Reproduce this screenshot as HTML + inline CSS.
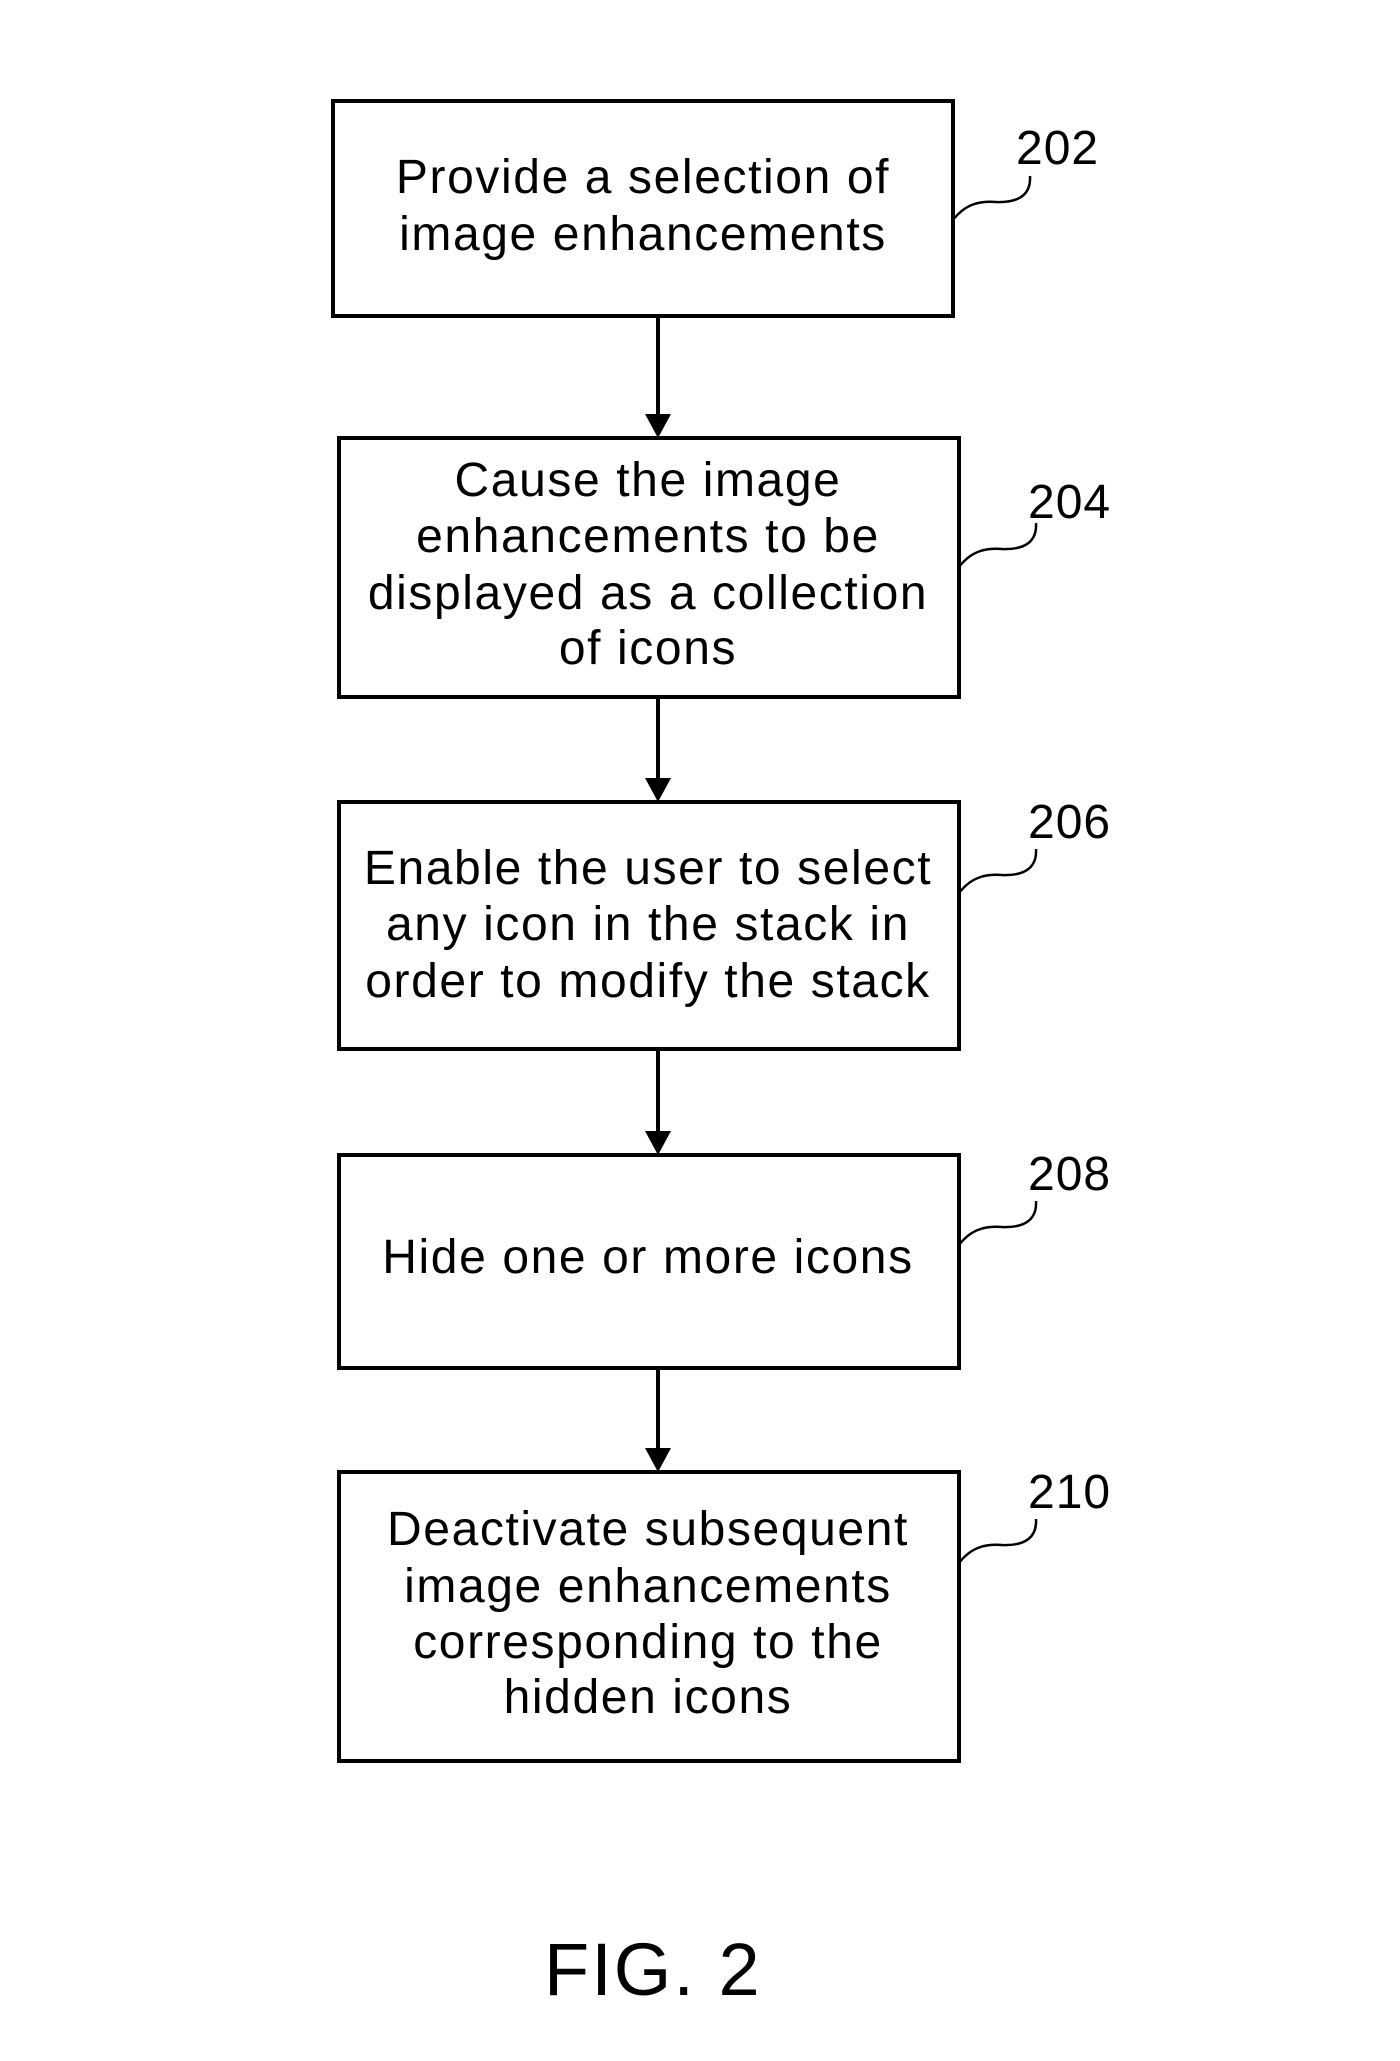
<!DOCTYPE html>
<html><head><meta charset="utf-8"><style>
html,body{margin:0;padding:0;background:#fff;}
svg{display:block}
text{font-family:"Liberation Sans",Arial,sans-serif;fill:#000}
</style></head><body>
<svg width="1400" height="2061" viewBox="0 0 1400 2061" xmlns="http://www.w3.org/2000/svg">
<g fill="none" stroke="#000" stroke-width="4">
<rect x="333" y="101" width="620" height="215"/>
<rect x="339" y="438" width="620" height="259"/>
<rect x="339" y="802" width="620" height="247"/>
<rect x="339" y="1155" width="620" height="213"/>
<rect x="339" y="1472" width="620" height="289"/>
<line x1="658" y1="316" x2="658" y2="416"/>
<line x1="658" y1="697" x2="658" y2="780"/>
<line x1="658" y1="1049" x2="658" y2="1133"/>
<line x1="658" y1="1368" x2="658" y2="1450"/>
</g>
<g fill="#000">
<polygon points="645,414 671,414 658,438"/>
<polygon points="645,778 671,778 658,802"/>
<polygon points="645,1131 671,1131 658,1155"/>
<polygon points="645,1448 671,1448 658,1472"/>
</g>
<g fill="none" stroke="#000" stroke-width="2.5">
<path d="M953,220 C966,203 981,201 996,202 C1021,203 1031,193 1030,176"/>
<path d="M959,567 C972,550 987,548 1002,549 C1027,550 1037,540 1036,523"/>
<path d="M959,893 C972,876 987,874 1002,875 C1027,876 1037,866 1036,849"/>
<path d="M959,1245 C972,1228 987,1226 1002,1227 C1027,1228 1037,1218 1036,1201"/>
<path d="M959,1563 C972,1546 987,1544 1002,1545 C1027,1546 1037,1536 1036,1519"/>
</g>
<g font-size="48" text-anchor="middle" letter-spacing="1.6">
<text x="643" y="193">Provide a selection of</text>
<text x="643" y="250">image enhancements</text>
<text x="648" y="496">Cause the image</text>
<text x="648" y="552">enhancements to be</text>
<text x="648" y="609">displayed as a collection</text>
<text x="648" y="664">of icons</text>
<text x="648" y="884">Enable the user to select</text>
<text x="648" y="940">any icon in the stack in</text>
<text x="648" y="997">order to modify the stack</text>
<text x="648" y="1273">Hide one or more icons</text>
<text x="648" y="1545">Deactivate subsequent</text>
<text x="648" y="1602">image enhancements</text>
<text x="648" y="1658">corresponding to the</text>
<text x="648" y="1713">hidden icons</text>
</g>
<g font-size="48" letter-spacing="1">
<text x="1016" y="164">202</text>
<text x="1028" y="518">204</text>
<text x="1028" y="838">206</text>
<text x="1028" y="1190">208</text>
<text x="1028" y="1508">210</text>
</g>
<text x="544" y="1995" font-size="74" letter-spacing="2">FIG. 2</text>
</svg>
</body></html>
